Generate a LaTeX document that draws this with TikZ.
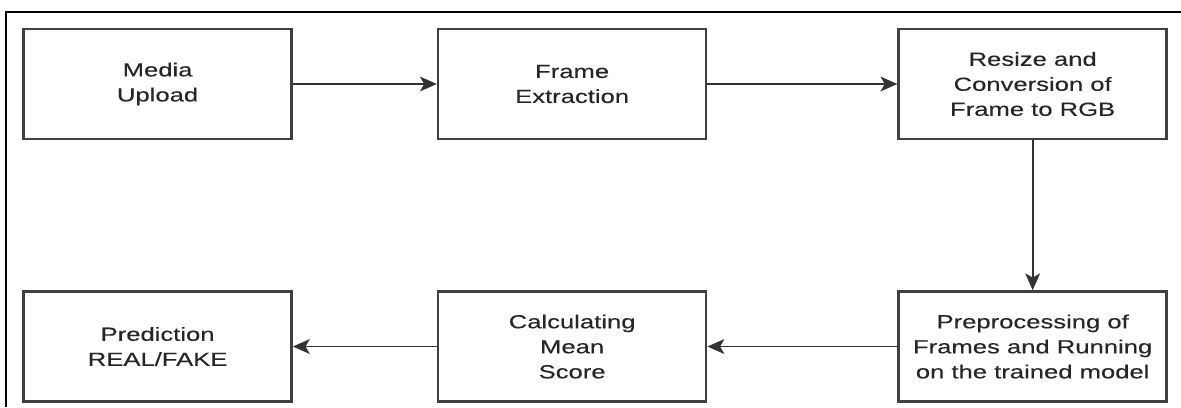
\documentclass[tikz,border=0pt]{standalone}
\usepackage{fontspec}
\setmainfont{Liberation Sans}
\newfontfamily\stagefont[FakeStretch=1.35,FakeBold=0.2]{Liberation Sans}
\usetikzlibrary{positioning,arrows.meta}

\begin{document}
\begin{tikzpicture}[
      stage/.style={
        draw=black!75,
        line width=1.8pt,
        minimum width=6.7cm,
        minimum height=2.75cm,
        align=center,
        font=\stagefont\fontsize{13.5pt}{17.8pt}\selectfont,
        text=black!85
      },
      flow/.style={
        draw=black!80,
        line width=1.2pt,
        -{Stealth[length=12pt,width=10.5pt,inset=3pt]}
      },
      node distance=3.6cm
      ]
      \useasboundingbox (0,0) rectangle (29.525,-10.175);
      \draw[line width=1.5pt] (0.16,-10.175) -- (0.16,-0.3) -- (29.525,-0.3);

      \node[stage] at (3.94,-2.1)
        (upload) {Media\\Upload};
      \node[stage,right=of upload]
        (extract) {Frame\\Extraction};
      \node[stage,right=4.75cm of extract]
        (resize) {Resize and\\Conversion of\\Frame to RGB};
      \node[stage,below=3.75cm of resize]
        (model) {Preprocessing of\\Frames and Running\\on the trained model};
      \node[stage,left=4.75cm of model]
        (mean) {Calculating\\Mean\\Score};
      \node[stage,left=of mean]
        (predict) {Prediction\\REAL/FAKE};

      \draw[flow] (upload) -- (extract);
      \draw[flow] (extract) -- (resize);
      \draw[flow] (resize) -- (model);
      \draw[flow] (model) -- (mean);
      \draw[flow] (mean) -- (predict);
    \end{tikzpicture}
\end{document}
